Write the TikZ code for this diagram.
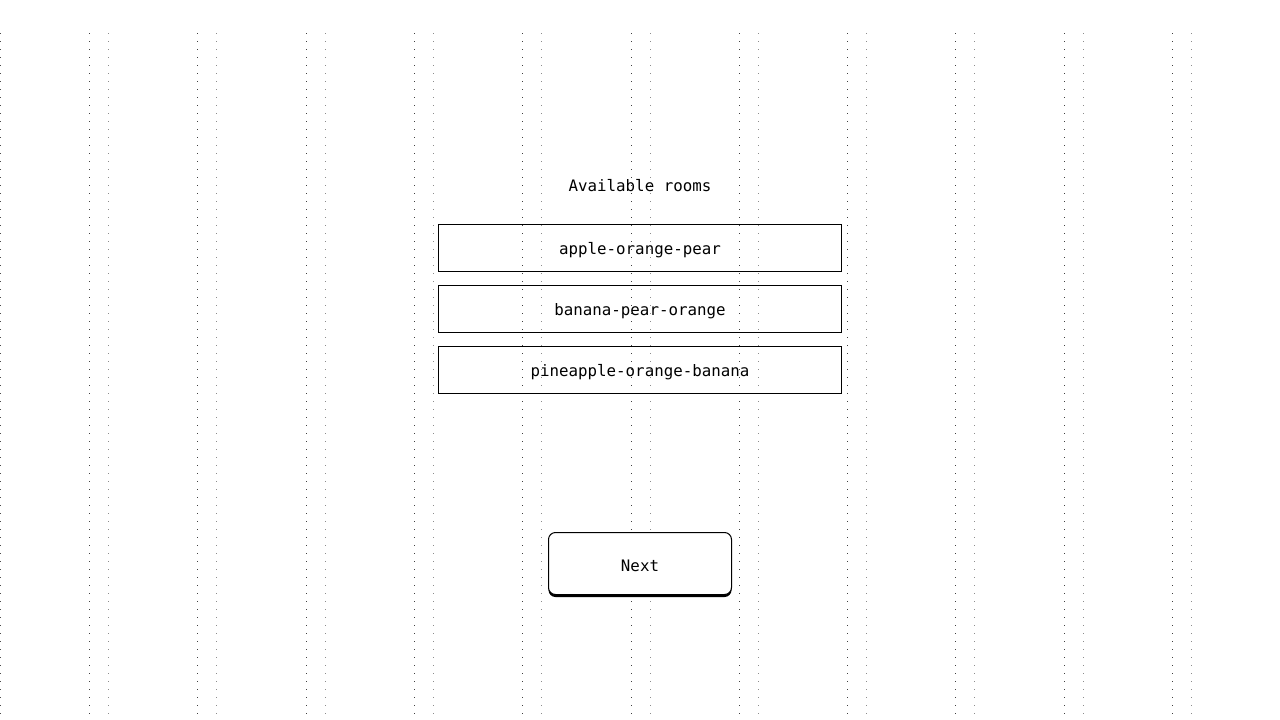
\documentclass[tikz,border=0pt]{standalone}
\usepackage{fontspec}
\setmonofont{DejaVu Sans Mono}
\usetikzlibrary{positioning}
\tikzset{
    roombox/.style={draw=black, line width=1pt, minimum width=403pt, minimum height=47pt, inner sep=0pt, text height=16pt, text depth=3pt, font=\ttfamily\fontsize{15.8}{18}\selectfont},
    nextbtn/.style={draw=black, line width=1pt, rounded corners=7pt, minimum width=183pt, minimum height=62pt, inner sep=0pt, text height=15.5pt, text depth=0pt, fill=white, font=\ttfamily\fontsize{15.8}{18}\selectfont},
    dotcol/.style={line width=1pt, dash pattern=on 1pt off 7pt},
}
\begin{document}
\begin{tikzpicture}[x=1pt, y=-1pt]
        % page size
        \useasboundingbox (0,0) rectangle (1280,720);

        % dotted columns
        \draw[dotcol, black!70] (0.5,33) -- (0.5,716);
        \foreach \i in {0,1,...,10} {
            \draw[dotcol, black!75] (89.5+108.3*\i,33) -- (89.5+108.3*\i,716);
            \draw[dotcol, black!45] (108.5+108.3*\i,33) -- (108.5+108.3*\i,716);
        }

        % title
        \node[font=\ttfamily\fontsize{15.8}{18}\selectfont] (title) at (640,186) {Available rooms};

        % rooms
        \node[roombox] (roomA) at (640,247.5) {apple-orange-pear};
        \node[roombox, below=13pt of roomA] (roomB) {banana-pear-orange};
        \node[roombox, below=13pt of roomB] (roomC) {pineapple-orange-banana};

        % next button with shadow
        \fill[black, rounded corners=7pt] (548.5,535) rectangle (731.5,597);
        \node[nextbtn] (next) at (640,563.5) {Next};
    \end{tikzpicture}
\end{document}
